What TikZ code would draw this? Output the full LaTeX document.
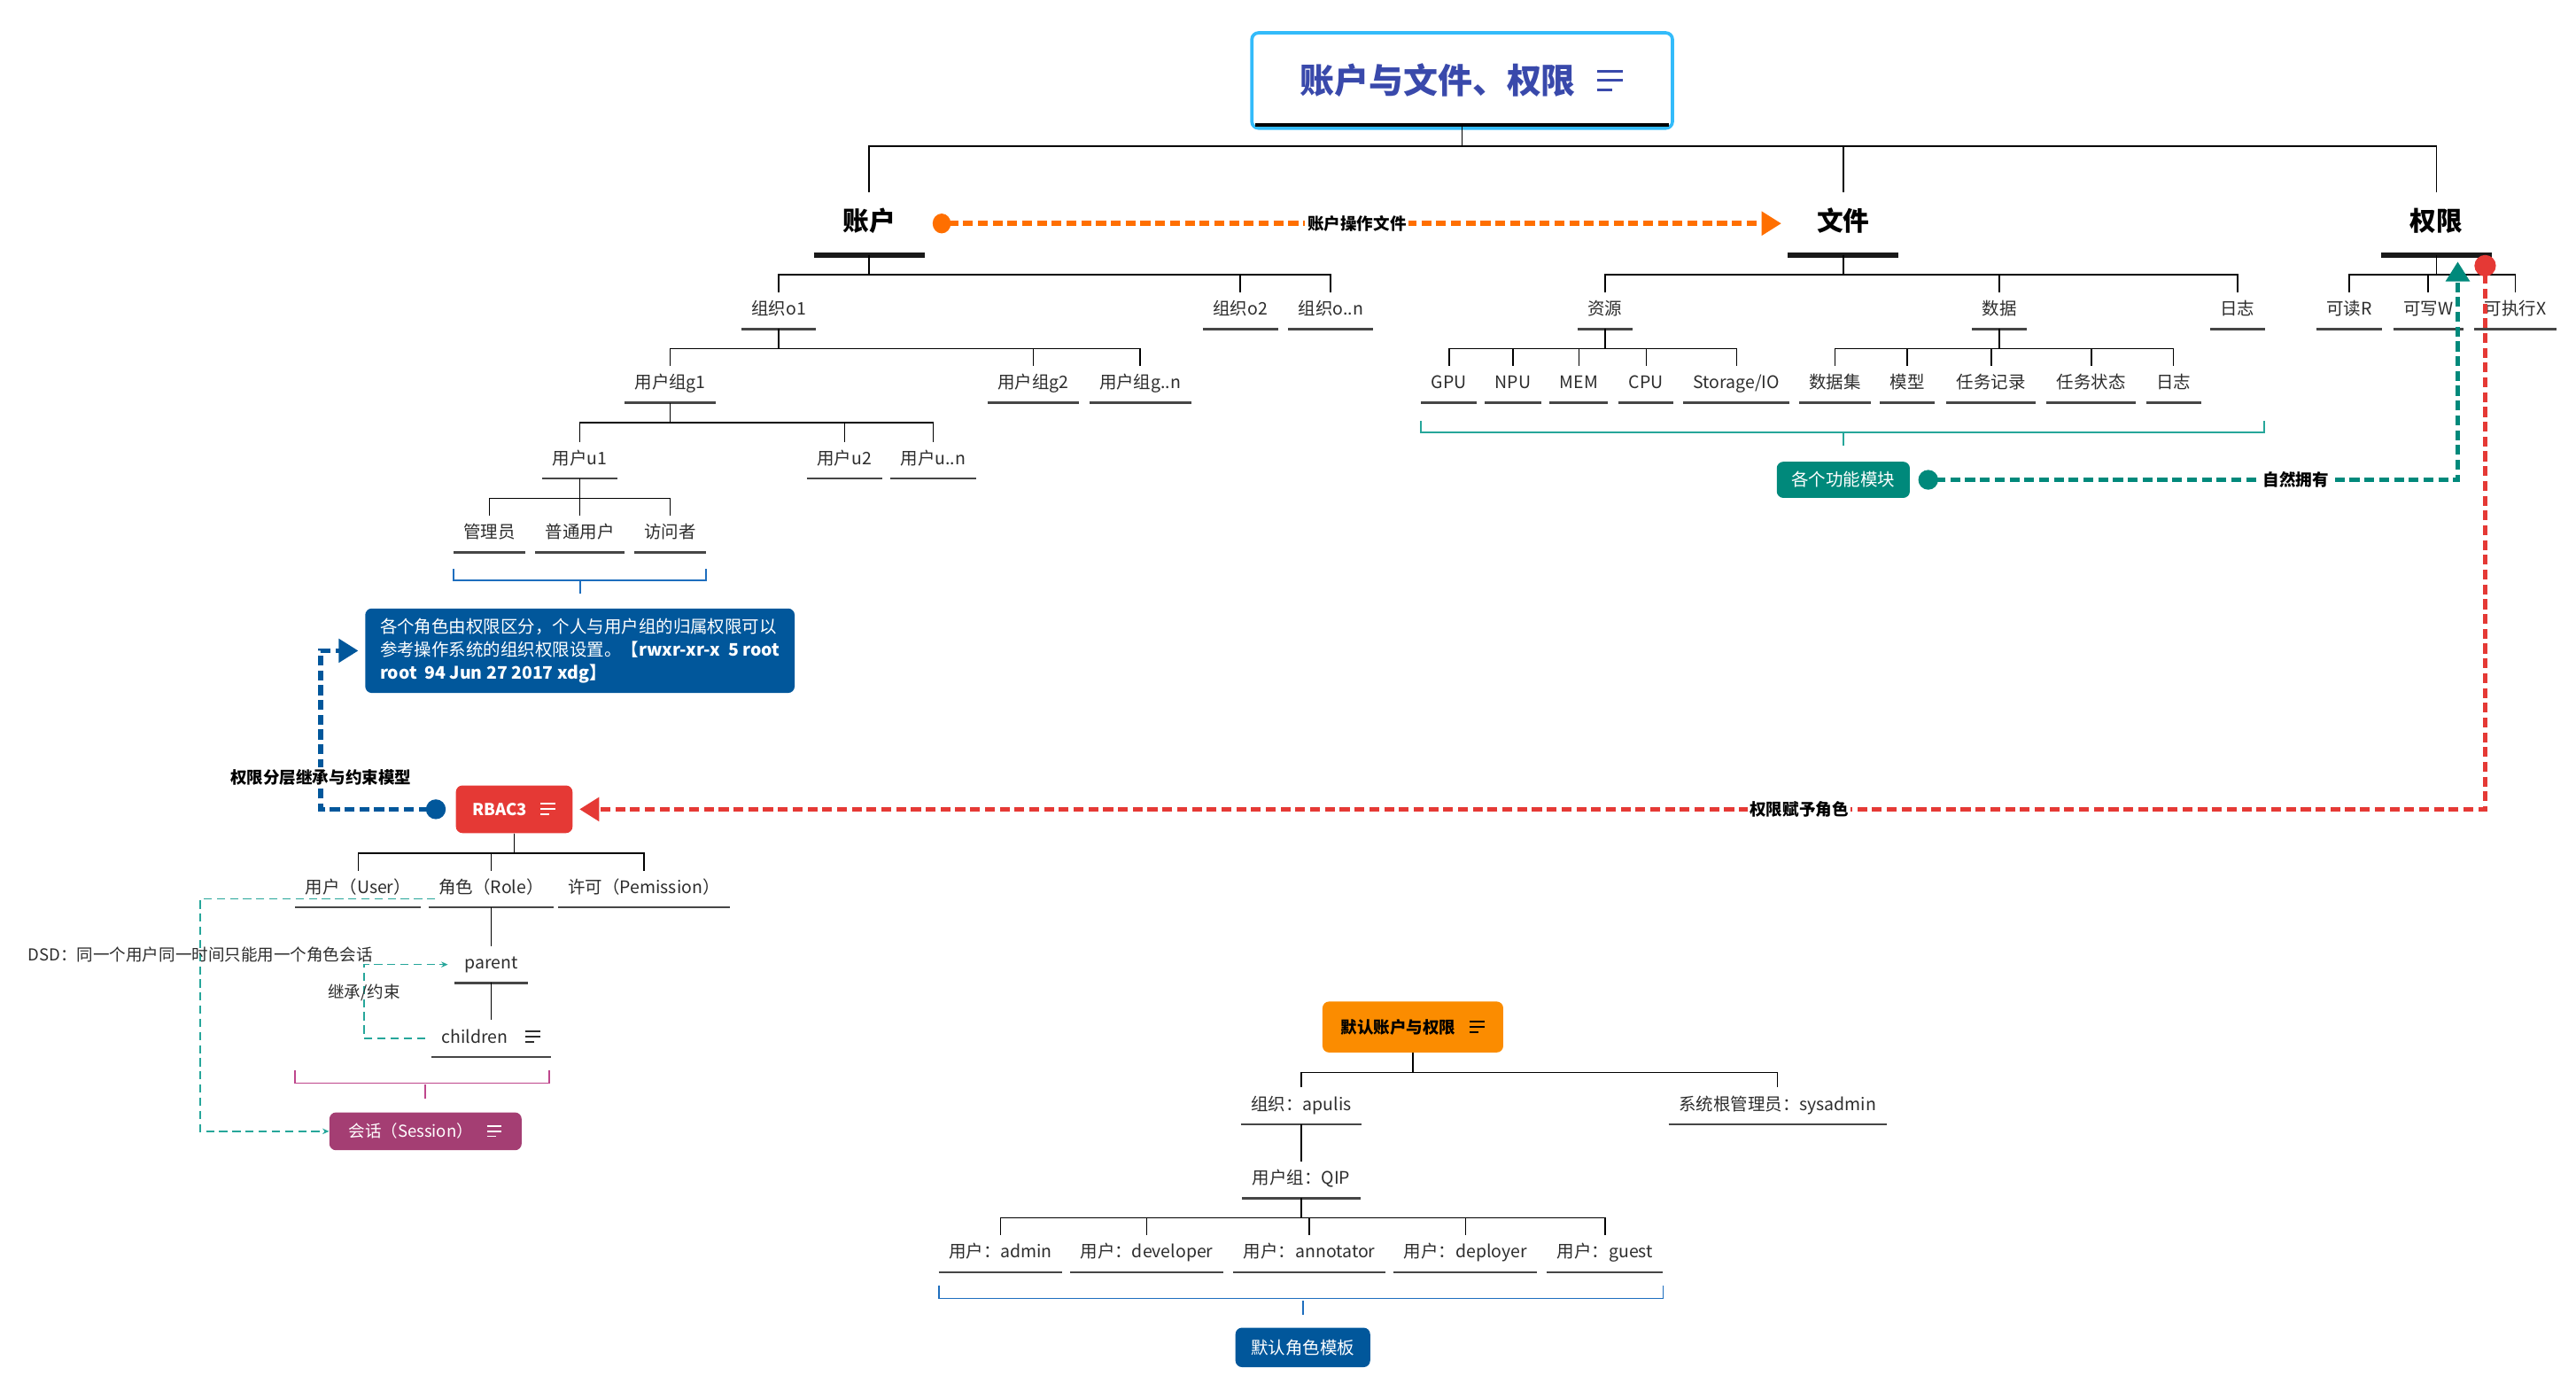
\documentclass[tikz,border=0pt]{standalone}
\usepackage{fontspec}
\setmainfont{Noto Sans CJK SC}
\usepackage{xcolor}
\usepackage{tikz}
\usetikzlibrary{arrows.meta,positioning}

\definecolor{titleblue}{RGB}{51,187,250}
\definecolor{titleink}{RGB}{57,73,171}
\definecolor{accorange}{RGB}{255,111,0}
\definecolor{permred}{RGB}{229,57,53}
\definecolor{modteal}{RGB}{0,137,123}
\definecolor{thinteal}{RGB}{38,166,154}
\definecolor{noteblue}{RGB}{1,87,155}
\definecolor{brblue}{RGB}{30,110,190}
\definecolor{sessmag}{RGB}{164,62,115}
\definecolor{brmag}{RGB}{190,70,140}
\definecolor{dfltorange}{RGB}{251,140,0}
\definecolor{inkgray}{RGB}{45,45,45}
\definecolor{linegray}{RGB}{70,70,70}

% small "list" icon behind some topics: colour, size, baseline
\newcommand{\listicon}[3]{\tikz[baseline=#3,x=#2pt,y=#2pt,line width=#2pt]{\draw[#1] (0,0)--(10,0) (0,-3.5)--(10,-3.5) (0,-7)--(6,-7);}}

\begin{document}
\begin{tikzpicture}[x=1pt,y=-1pt,
  conn/.style={draw=black,line width=0.8pt},
  uline/.style={draw=linegray,line width=1.4pt},
  topline/.style={draw=black!90,line width=3.5pt},
  leaf/.style={font=\fontsize{10.5}{12}\selectfont,text=inkgray,text height=7.9pt,text depth=2.6pt,inner xsep=6pt,inner ysep=5.75pt},
  main/.style={font=\fontsize{16}{18}\selectfont\bfseries,text height=12pt,text depth=3pt,inner xsep=17.5pt,inner ysep=11.5pt},
  tag/.style={rounded corners=4pt,text=white,font=\fontsize{10}{12}\selectfont,inner sep=0pt},
  bolddash/.style={line width=3pt,dash pattern=on 6pt off 3pt},
  thindash/.style={draw=thinteal,line width=0.8pt,dash pattern=on 5pt off 3pt,-{Stealth[length=4pt,width=3.5pt]}},
  linklabel/.style={fill=white,inner sep=1.5pt,font=\fontsize{10}{12}\selectfont\bfseries,text=black},
  notetext/.style={font=\fontsize{10}{12}\selectfont,text=inkgray,inner sep=1pt},
  bracket/.style={line width=1pt}]
\useasboundingbox (0,0) rectangle (1568,851);

% title and main topics
\node[draw=titleblue,line width=2pt,rounded corners=4pt,fill=white,minimum width=256pt,minimum height=58pt,inner sep=0pt,text=titleink,font=\fontsize{21}{24}\selectfont\bfseries] (title) at (890,49) {账户与文件、权限\hspace{12pt}\listicon{titleink}{1.6}{-13.6pt}};
\draw[black,line width=2.5pt] ([xshift=3pt,yshift=3pt]title.south west) -- ([xshift=-3pt,yshift=3pt]title.south east);

\node[main] (acc) at (529,136) {账户};
\node[main] (file) at (1122,136) {文件};
\node[main] (perm) at (1483,136) {权限};

% accounts
\node[leaf] (o1) at (474,189) {组织o1};
\node[leaf] (o2) at (755,189) {组织o2};
\node[leaf] (on) at (810,189) {组织o..n};
\node[leaf] (g1) at (408,234) {用户组g1};
\node[leaf] (g2) at (629,234) {用户组g2};
\node[leaf] (gn) at (694,234) {用户组g..n};
\node[leaf] (u1) at (353,280) {用户u1};
\node[leaf] (u2) at (514,280) {用户u2};
\node[leaf] (un) at (568,280) {用户u..n};
\node[leaf] (adm) at (298,325) {管理员};
\node[leaf] (nrm) at (353,325) {普通用户};
\node[leaf] (vis) at (408,325) {访问者};

% files
\node[leaf] (res) at (977,189) {资源};
\node[leaf] (dat) at (1217,189) {数据};
\node[leaf] (flog) at (1362,189) {日志};
\node[leaf] (gpu) at (882,234) {GPU};
\node[leaf] (npu) at (921,234) {NPU};
\node[leaf] (mem) at (961,234) {MEM};
\node[leaf] (cpu) at (1002,234) {CPU};
\node[leaf] (sto) at (1057,234) {Storage/IO};
\node[leaf] (dset) at (1117,234) {数据集};
\node[leaf] (mdl) at (1161,234) {模型};
\node[leaf] (trec) at (1212,234) {任务记录};
\node[leaf] (tsta) at (1273,234) {任务状态};
\node[leaf] (dlog) at (1323,234) {日志};

% permissions
\node[leaf] (rd) at (1430,189) {可读R};
\node[leaf] (wr) at (1478,189) {可写W};
\node[leaf] (ex) at (1531,189) {可执行X};

% floating topics
\node[tag,fill=noteblue,align=left,inner xsep=9pt,inner ysep=6pt,font=\fontsize{10.5}{14}\selectfont] (note) at (353,396) {各个角色由权限区分，个人与用户组的归属权限可以\\参考操作系统的组织权限设置。\textbf{【rwxr-xr-x~ 5 root}\\\textbf{root~ 94 Jun 27 2017 xdg】}};
\node[tag,fill=modteal,minimum width=81pt,minimum height=22pt,font=\fontsize{10.5}{12}\selectfont] (func) at (1122,292) {各个功能模块};
\node[tag,fill=permred,minimum width=71pt,minimum height=29pt,font=\fontsize{10}{12}\selectfont\bfseries] (rbac) at (313,492.5) {RBAC3\hspace{8pt}\listicon{white}{0.9}{-7pt}};

% RBAC3
\node[leaf] (user) at (218,541) {用户（User）};
\node[leaf] (role) at (299,541) {角色（Role）};
\node[leaf] (prm) at (392,541) {许可（Pemission）};
\node[leaf] (parent) at (299,587) {parent};
\node[leaf] (child) at (299,632) {children\hspace{10pt}\listicon{inkgray}{0.9}{-7pt}};
\node[tag,fill=sessmag,minimum width=117pt,minimum height=23pt] (sess) at (259,688.5) {会话（Session）\hspace{8pt}\listicon{white}{0.9}{-7pt}};

% default accounts
\node[tag,fill=dfltorange,text=black,minimum width=110pt,minimum height=31pt,font=\fontsize{10}{12}\selectfont\bfseries] (dflt) at (860,625) {默认账户与权限\hspace{8pt}\listicon{black}{0.9}{-7pt}};
\node[leaf] (org) at (792,673) {组织：apulis};
\node[leaf] (sys) at (1082,673) {系统根管理员：sysadmin};
\node[leaf] (grp) at (792,718) {用户组：QIP};
\node[leaf] (ad) at (609,763) {用户：admin};
\node[leaf] (dev) at (698,763) {用户：developer};
\node[leaf] (ann) at (797,763) {用户：annotator};
\node[leaf] (dep) at (892,763) {用户：deployer};
\node[leaf] (gst) at (977,763) {用户：guest};
\node[tag,fill=noteblue,minimum width=82pt,minimum height=24pt,font=\fontsize{10.5}{12}\selectfont] (tmpl) at (793,820) {默认角色模板};

% underlines
\foreach \n in {acc,file,perm}
  \draw[topline] (\n.south west) -- (\n.south east);
\foreach \n in {o1,o2,on,g1,g2,gn,u1,u2,un,adm,nrm,vis,res,dat,flog,gpu,npu,mem,cpu,sto,dset,mdl,trec,tsta,dlog,rd,wr,ex,user,role,prm,parent,child,org,sys,grp,ad,dev,ann,dep,gst}
  \draw[uline] (\n.south west) -- (\n.south east);

% tree connectors
\foreach \dst in {acc,file,perm}
  \draw[conn] ([yshift=3pt]title.south) -- ++(0,13) -| (\dst.north);
\foreach \src/\dst in {acc/o1,acc/o2,acc/on,o1/g1,o1/g2,o1/gn,g1/u1,g1/u2,g1/un,u1/adm,u1/nrm,u1/vis,file/res,file/dat,file/flog,res/gpu,res/npu,res/mem,res/cpu,res/sto,dat/dset,dat/mdl,dat/trec,dat/tsta,dat/dlog,perm/rd,perm/wr,perm/ex,rbac/user,rbac/role,rbac/prm,dflt/org,dflt/sys,grp/ad,grp/dev,grp/ann,grp/dep,grp/gst}
  \draw[conn] (\src.south) -- ++(0,12) -| (\dst.north);
\foreach \src/\dst in {role/parent,parent/child,org/grp}
  \draw[conn] (\src.south) -- (\dst.north);

% summary brackets
\draw[bracket,brblue] ([yshift=-10pt]adm.south west) -- ++(0,7) -| ([yshift=-10pt]vis.south east);
\draw[bracket,brblue] ([yshift=-17pt]nrm.south) -- ++(0,8);
\draw[bracket,thinteal] ([yshift=-11pt]gpu.south west) -- ++(0,7) -- ++(513,0) -- ++(0,-7);
\draw[bracket,thinteal] (file |- gpu.south) ++(0,18) -- ++(0,8);
\draw[bracket,brmag] (user.west |- child.south) ++(0,8) -- ++(0,8) -- ++(154.5,0) -- ++(0,-8);
\draw[bracket,brmag] ([yshift=8pt]sess.north) -- ++(0,-9);
\draw[bracket,brblue] ([yshift=-8pt]ad.south west) -- ++(0,8) -| ([yshift=-8pt]gst.south east);
\draw[bracket,brblue] ([yshift=7.5pt]tmpl.north) -- ++(0,-9);

% relations
\draw[bolddash,accorange,{Circle[length=11pt,width=12pt]}-{Triangle[length=12pt,width=14pt]}] ([xshift=5pt]acc.east) -- node[linklabel]{账户操作文件} ([xshift=-4pt]file.west);
\draw[bolddash,permred,{Circle[length=13pt,width=13pt]}-{Triangle[length=12pt,width=14pt]}] ([xshift=-4pt]perm.south east) |- node[linklabel,pos=0.68]{权限赋予角色} ([xshift=4pt]rbac.east);
\draw[bolddash,modteal,{Circle[length=12pt,width=12pt]}-{Triangle[length=12pt,width=14pt]}] ([xshift=5pt]func.east) -| node[linklabel,pos=0.35]{自然拥有} ([xshift=13pt,yshift=-4pt]perm.south);
\draw[bolddash,noteblue,{Circle[length=12pt,width=12pt]}-{Triangle[length=12pt,width=14pt]}] ([xshift=-6pt]rbac.west) -- ++(-76,0) |- node[linklabel,pos=0.1]{权限分层继承与约束模型} ([xshift=-4pt]note.west);

\draw[thindash] ([xshift=4pt,yshift=-6pt]role.west) -- ++(-143,0) |- node[notetext,pos=0.12]{DSD：同一个用户同一时间只能用一个角色会话} (sess.west);
\draw[thindash] ([xshift=-4pt]child.west) -- ++(-37,0) |- node[notetext,pos=0.31]{继承/约束} ([xshift=-4pt]parent.west);
\end{tikzpicture}
\end{document}
